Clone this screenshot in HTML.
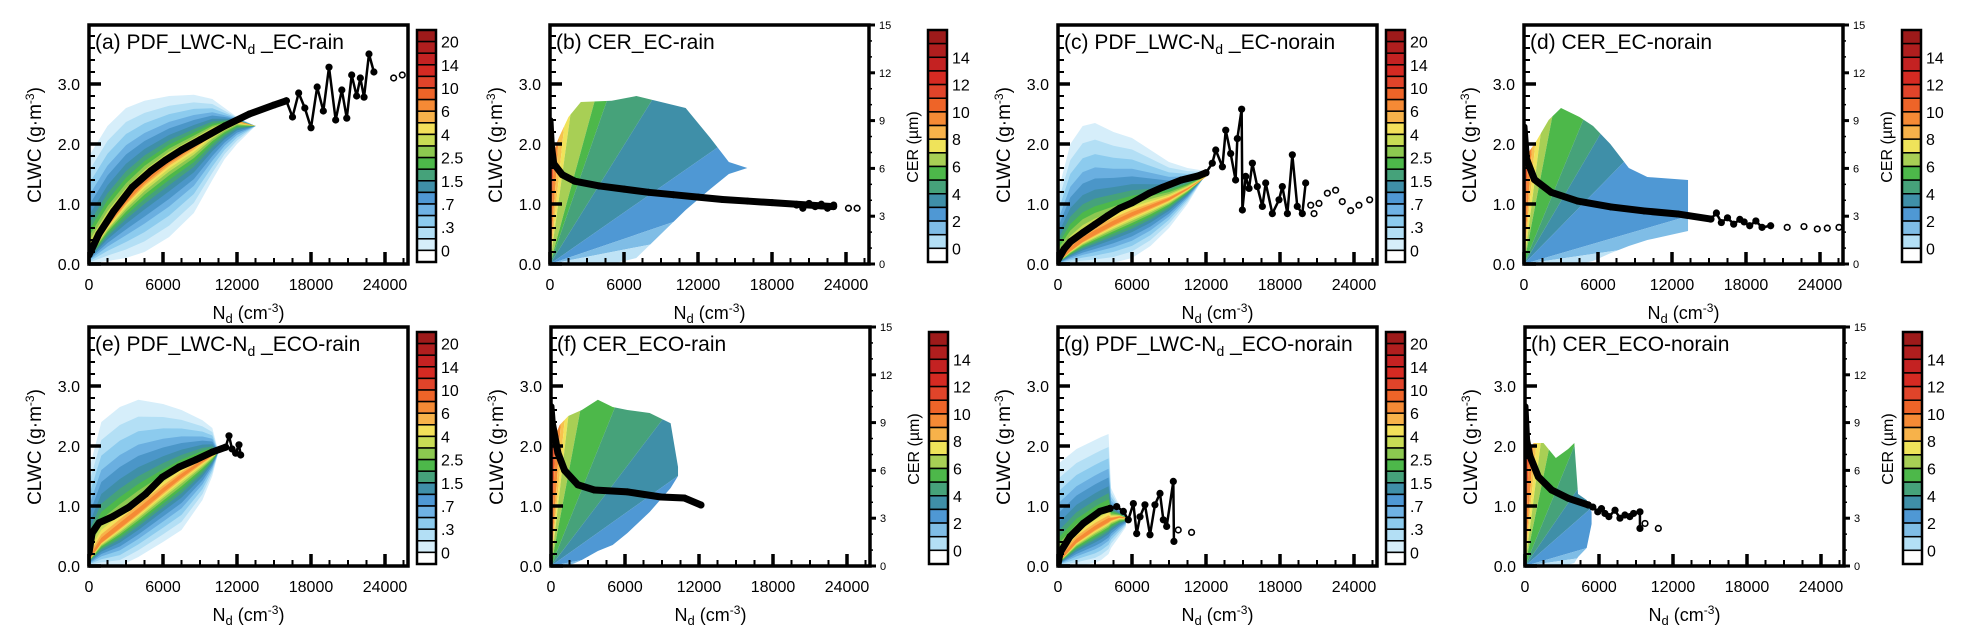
<!DOCTYPE html>
<html><head><meta charset="utf-8">
<style>
html,body{margin:0;padding:0;background:#fff;}
svg{display:block;font-family:"Liberation Sans",Arial,sans-serif;}
</style></head>
<body>
<svg id="fig" width="1963" height="644" viewBox="0 0 1963 644" xmlns="http://www.w3.org/2000/svg"></svg>
<script>
// ---------- data (Nd in cm^-3, LWC in g m^-3, CER in um) ----------
const aSmoothNd=[0,800,2000,3500,5000,6200,7500,9000,11000,13000,15000,16000];
const aSmoothVal=[0.15,0.5,0.88,1.28,1.55,1.73,1.9,2.07,2.3,2.5,2.65,2.72];
const aNoisyNd=[16000,16500,17000,17500,18000,18500,19000,19460,20000,20500,20900,21300,21700,22000,22300,22700,23100];
const aNoisyVal=[2.72,2.45,2.85,2.6,2.27,2.95,2.55,3.28,2.4,2.9,2.43,3.15,2.8,3.1,2.78,3.5,3.2];
const aOpenNd=[24700,25400];
const aOpenVal=[3.1,3.15];
const aEnvNd=[0,1500,3000,4500,6500,8500,10000,11000,12000,13500];
const aEnvTop=[1.8,2.3,2.6,2.72,2.8,2.82,2.75,2.6,2.45,2.3];
const aEnvBot=[0,0.05,0.1,0.2,0.45,0.85,1.4,1.75,2.0,2.3];
const aRidge=[0.15,0.65,1.05,1.38,1.72,1.98,2.2,2.3,2.38,2.3];

const bSmoothNd=[0,100,300,1000,2000,4000,6000,8000,10000,12000,14000,16000,18000,20000,22000,23000];
const bSmoothVal=[9.0,7.5,6.3,5.6,5.2,4.9,4.7,4.5,4.35,4.2,4.05,3.95,3.85,3.75,3.65,3.6];
const bNoisyNd=[20000,20500,21000,21500,22000,22500,23000];
const bNoisyVal=[3.7,3.5,3.8,3.6,3.75,3.5,3.7];
const bOpenNd=[24200,24900];
const bOpenVal=[3.5,3.5];
const bEnvNd=[0,700,1500,2500,5000,7000,9000,11000,13000,14500,16000];
const bEnvTop=[1.7,2.1,2.45,2.7,2.72,2.8,2.7,2.6,2.1,1.7,1.6];
const bEnvBot=[0,0,0,0,0,0.1,0.5,0.9,1.25,1.5,1.6];
const bSlopes=[60,30,20,15,7.5,5.9,3.3,1.43,0.7,0.4];

const cSmoothNd=[0,500,1000,2000,3000,4000,5000,6000,7400,8500,10000,11400,12000];
const cSmoothVal=[0.07,0.25,0.37,0.52,0.66,0.8,0.93,1.02,1.18,1.28,1.4,1.47,1.52];
const cNoisyNd=[12000,12510,12790,13330,13600,14000,14400,14540,14890,14950,15220,15490,15760,16160,16570,16840,17380,17920,18190,18600,19000,19400,19810,20080];
const cNoisyVal=[1.52,1.68,1.9,1.62,2.23,1.84,1.4,2.09,2.58,0.9,1.46,1.26,1.68,1.29,0.96,1.35,0.84,1.07,1.29,0.84,1.82,0.96,0.84,1.35];
const cOpenNd=[20490,20760,21160,21840,22510,23050,23730,24400,25270];
const cOpenVal=[0.98,0.84,1.01,1.18,1.23,1.04,0.89,0.98,1.07];
const cEnvNd=[0,1000,2000,3000,4500,6000,7500,9000,10500,12000];
const cEnvTop=[1.2,2.0,2.3,2.35,2.2,2.1,1.9,1.7,1.6,1.55];
const cEnvBot=[0,0,0,0,0.02,0.1,0.3,0.6,1.0,1.5];
const cRidge=[0.03,0.22,0.38,0.5,0.67,0.82,0.95,1.08,1.25,1.45];

const dSmoothNd=[0,200,850,2200,4350,7050,9750,12450,15150];
const dSmoothVal=[8.6,6.6,5.3,4.5,3.95,3.58,3.33,3.14,2.82];
const dNoisyNd=[15150,15600,16000,16500,17000,17500,17850,18300,18800,19300,20000];
const dNoisyVal=[2.82,3.2,2.6,2.9,2.5,2.8,2.64,2.4,2.7,2.3,2.4];
const dOpenNd=[21340,22700,23780,24590,25540];
const dOpenVal=[2.3,2.35,2.2,2.25,2.3];
const dEnvNd=[0,1000,2000,3000,4500,5600,7000,8500,10000,13300];
const dEnvTop=[1.75,2.05,2.4,2.6,2.45,2.3,2.0,1.6,1.45,1.4];
const dEnvBot=[0,0,0,0,0,0.05,0.18,0.3,0.4,0.55];
const dSlopes=[60,30,22,16,10.7,5,3.5,2.1,0.6,0.3];

const eSmoothNd=[0,250,810,1890,3240,4590,5940,7300,8650,10000,11080];
const eSmoothVal=[0.22,0.55,0.72,0.82,0.98,1.2,1.48,1.65,1.77,1.9,1.98];
const eNoisyNd=[11080,11350,11600,11890,12160,12300];
const eNoisyVal=[1.98,2.17,1.95,1.88,2.02,1.85];
const eOpenNd=[];
const eOpenVal=[];
const eEnvNd=[0,1000,2500,4000,6000,7500,9200,10000,10500];
const eEnvTop=[1.6,2.4,2.65,2.77,2.7,2.6,2.43,2.3,1.9];
const eEnvBot=[0,0,0,0.15,0.4,0.6,1.1,1.5,1.9];
const eRidge=[0.1,0.4,0.65,0.9,1.25,1.5,1.75,1.85,1.9];

const fSmoothNd=[0,100,320,560,1100,2170,3520,6220,8920,10810,12160];
const fSmoothVal=[10,9,8.1,7.1,6.0,5.1,4.77,4.65,4.33,4.27,3.83];
const fNoisyNd=[];
const fNoisyVal=[];
const fOpenNd=[];
const fOpenVal=[];
const fEnvNd=[0,700,1400,2500,3800,5000,6200,8000,9700,10300];
const fEnvTop=[2.0,2.35,2.5,2.6,2.77,2.65,2.6,2.55,2.38,1.65];
const fEnvBot=[0,0,0,0.1,0.25,0.35,0.55,0.9,1.3,1.5];
const fSlopes=[60,30,22,17.7,10.9,5.1,2.7,1.46,0.4,0.2];

const gSmoothNd=[0,160,970,2050,3400,4220];
const gSmoothVal=[0.02,0.22,0.49,0.71,0.91,0.96];
const gNoisyNd=[4220,4760,5300,5700,6110,6380,6650,7050,7460,7860,8270,8540,8810,9350,9400];
const gNoisyVal=[0.96,0.99,0.91,0.77,1.04,0.54,0.82,1.02,0.52,1.02,1.21,0.77,0.66,1.41,0.41];
const gOpenNd=[9750,10830];
const gOpenVal=[0.6,0.56];
const gEnvNd=[0,1500,3000,3500,4100,4300,5000,5500];
const gEnvTop=[1.7,1.95,2.1,2.15,2.2,1.3,1.0,0.85];
const gEnvBot=[0,0,0.05,0.1,0.2,0.3,0.5,0.65];
const gRidge=[0.05,0.4,0.62,0.68,0.75,0.78,0.82,0.8];

const hSmoothNd=[0,130,400,1080,2160,3510,5130];
const hSmoothVal=[10,7.9,6.9,5.6,4.77,4.25,3.83];
const hNoisyNd=[5130,5500,5900,6200,6480,6800,7300,7700,8100,8500,8800,9320,9320];
const hNoisyVal=[3.83,3.7,3.4,3.6,3.3,3.1,3.5,3.0,3.2,3.1,3.3,3.4,2.36];
const hOpenNd=[9730,10810];
const hOpenVal=[2.67,2.36];
const hEnvNd=[0,700,1500,2500,3500,4000,4300,5000,5400];
const hEnvTop=[1.8,2.05,2.05,1.8,1.95,2.05,1.2,1.1,0.9];
const hEnvBot=[0,0,0,0,0.02,0.05,0.15,0.3,0.7];
const hSlopes=[60,30,22,16,10,5,3,1.8,0.6,0.3];

const xTickVals=[0,6000,12000,18000,24000];
const yTickVals=[0,1,2,3];
const yTickLabels=["0.0","1.0","2.0","3.0"];
const cerTickVals=[0,3,6,9,12,15];
const pdfBarLabels=["20","14","10","6","4","2.5","1.5",".7",".3","0"];
const cerBarLabels=["14","12","10","8","6","4","2","0"];

// ---------- styling ----------
const PW=319, PH=239, NDPX=74/6000, LWCPX=60, CERMAX=15;
const pdfBarColors=['#9e1a1a','#b01e1e','#c42222','#d52a22','#e0442a','#ee6428','#f58a35','#f7b24a','#f3e05a','#c8dc55','#8cc850','#4db84a','#45a27a','#3f8fa8','#4f98d4','#6fb2e4','#8ccbee','#b3dff5','#d6eefa','#ffffff'];
const cerBarColors=['#9e1a1a','#b01e1e','#c42222','#d52a22','#e0442a','#ee6428','#f58a35','#f7b24a','#efe35a','#a8cf55','#4db84a','#46a27a','#3f8fa8','#4f98d4','#7fbde6','#b3dff5','#ffffff'];
const bandFrac=[1,0.85,0.72,0.6,0.5,0.4,0.32,0.25,0.19,0.14,0.1,0.065,0.035];
const bandColors=['#d6eefa','#b3dff5','#8ccbee','#6aafe0','#4b96c8','#3f8fa8','#45a27a','#4db84a','#8cc850','#c8dc55','#f3e05a','#f7b24a','#f58a35'];
const wedgeColors=['#e8562e','#f58a35','#f7c24e','#efe35a','#a8cf55','#4db84a','#46a27a','#3f8fa8','#4f98d4','#7fbde6','#bfe3f6'];

const panels=[
 {id:'a',type:'pdf',left:89,top:25,t1:'(a) PDF_LWC-N',t2:' _EC-rain',sN:aSmoothNd,sV:aSmoothVal,nN:aNoisyNd,nV:aNoisyVal,oN:aOpenNd,oV:aOpenVal,eN:aEnvNd,eT:aEnvTop,eB:aEnvBot,r:aRidge},
 {id:'b',type:'cer',left:550,top:25,t1:'(b) CER_EC-rain',t2:'',sN:bSmoothNd,sV:bSmoothVal,nN:bNoisyNd,nV:bNoisyVal,oN:bOpenNd,oV:bOpenVal,eN:bEnvNd,eT:bEnvTop,eB:bEnvBot,sl:bSlopes},
 {id:'c',type:'pdf',left:1058,top:25,t1:'(c) PDF_LWC-N',t2:' _EC-norain',sN:cSmoothNd,sV:cSmoothVal,nN:cNoisyNd,nV:cNoisyVal,oN:cOpenNd,oV:cOpenVal,eN:cEnvNd,eT:cEnvTop,eB:cEnvBot,r:cRidge},
 {id:'d',type:'cer',left:1524,top:25,t1:'(d) CER_EC-norain',t2:'',sN:dSmoothNd,sV:dSmoothVal,nN:dNoisyNd,nV:dNoisyVal,oN:dOpenNd,oV:dOpenVal,eN:dEnvNd,eT:dEnvTop,eB:dEnvBot,sl:dSlopes},
 {id:'e',type:'pdf',left:89,top:327,t1:'(e) PDF_LWC-N',t2:' _ECO-rain',sN:eSmoothNd,sV:eSmoothVal,nN:eNoisyNd,nV:eNoisyVal,oN:eOpenNd,oV:eOpenVal,eN:eEnvNd,eT:eEnvTop,eB:eEnvBot,r:eRidge},
 {id:'f',type:'cer',left:551,top:327,t1:'(f) CER_ECO-rain',t2:'',sN:fSmoothNd,sV:fSmoothVal,nN:fNoisyNd,nV:fNoisyVal,oN:fOpenNd,oV:fOpenVal,eN:fEnvNd,eT:fEnvTop,eB:fEnvBot,sl:fSlopes},
 {id:'g',type:'pdf',left:1058,top:327,t1:'(g) PDF_LWC-N',t2:' _ECO-norain',sN:gSmoothNd,sV:gSmoothVal,nN:gNoisyNd,nV:gNoisyVal,oN:gOpenNd,oV:gOpenVal,eN:gEnvNd,eT:gEnvTop,eB:gEnvBot,r:gRidge},
 {id:'h',type:'cer',left:1525,top:327,t1:'(h) CER_ECO-norain',t2:'',sN:hSmoothNd,sV:hSmoothVal,nN:hNoisyNd,nV:hNoisyVal,oN:hOpenNd,oV:hOpenVal,eN:hEnvNd,eT:hEnvTop,eB:hEnvBot,sl:hSlopes}
];

const NS='http://www.w3.org/2000/svg';
const svg=document.getElementById('fig');
function mk(tag,parent,attrs){const e=document.createElementNS(NS,tag);for(const k in attrs)e.setAttribute(k,attrs[k]);parent.appendChild(e);return e;}
function tsp(parent,text,attrs){const t=mk('tspan',parent,attrs||{});t.textContent=text;return t;}

panels.forEach(p=>{
  const L=p.left,T=p.top,B=T+PH,R=L+PW;
  const X=v=>L+v*NDPX;
  const Y=v=>B-v*LWCPX;
  const YC=v=>B-v*PH/CERMAX;
  const g=mk('g',svg,{});
  
  
  const defs=mk('defs',g,{});
  const cp=mk('clipPath',defs,{id:'clip-'+p.id});
  mk('rect',cp,{x:L,y:T,width:PW,height:PH});
  const cloud=mk('g',g,{'clip-path':'url(#clip-'+p.id+')'});
  
  
  if(p.type==='pdf'){
    bandFrac.forEach((f,k)=>{
      const up=p.eN.map((n,i)=>X(n)+','+Y(p.r[i]+f*(p.eT[i]-p.r[i])));
      const lo=p.eN.map((n,i)=>X(n)+','+Y(p.r[i]-f*(p.r[i]-p.eB[i]))).reverse();
      const poly=mk('polygon',cloud,{points:up.concat(lo).join(' '),fill:bandColors[k]});
      
      
    });
  } else {
    const ecp=mk('clipPath',defs,{id:'env-'+p.id});
    const up=p.eN.map((n,i)=>X(n)+','+Y(p.eT[i]));
    const lo=p.eN.map((n,i)=>X(n)+','+Y(p.eB[i])).reverse();
    mk('polygon',ecp,{points:up.concat(lo).join(' ')});
    const wg=mk('g',cloud,{'clip-path':'url(#env-'+p.id+')'});
    const XM=30000;
    const bounds=[null].concat(p.sl).concat([0]);
    for(let k=0;k<bounds.length-1;k++){
      const s1=bounds[k],s2=bounds[k+1];
      const p1=s1===null?(X(0)+','+(T-50)):(X(XM)+','+Y(s1*XM/10000));
      const pts=[X(0)+','+Y(0),p1,X(XM)+','+Y(s2*XM/10000)];
      if(s1===null)pts.splice(2,0,X(XM)+','+(T-50));
      const poly=mk('polygon',wg,{points:pts.join(' '),fill:wedgeColors[k]});
      
      
    }
  }
  const YV=p.type==='pdf'?Y:YC;
  const cg=mk('g',g,{'clip-path':'url(#clip-'+p.id+')'});
  
  
  mk('polyline',cg,{points:p.sN.map((n,i)=>X(n)+','+YV(p.sV[i])).join(' '),fill:'none',stroke:'#000','stroke-width':7,'stroke-linejoin':'round','stroke-linecap':'round'});
  if(p.nN.length){
    mk('polyline',cg,{points:p.nN.map((n,i)=>X(n)+','+YV(p.nV[i])).join(' '),fill:'none',stroke:'#000','stroke-width':2.5,'stroke-linejoin':'round'});
  }
  p.sN.forEach((n,i)=>{const c=mk('circle',cg,{cx:X(n),cy:YV(p.sV[i]),r:3.5,fill:'#000'});
    
    });
  p.nN.forEach((n,i)=>{const c=mk('circle',cg,{cx:X(n),cy:YV(p.nV[i]),r:3.6,fill:'#000'});
    
    });
  p.oN.forEach((n,i)=>{const c=mk('circle',cg,{cx:X(n),cy:YV(p.oV[i]),r:2.8,fill:'#fff',stroke:'#000','stroke-width':1.6});
    
    });
  const tk=mk('g',g,{stroke:'#000'});
  for(let v=0;v<=3.9;v+=0.2){const maj=Math.abs(v-Math.round(v))<1e-6;
    mk('line',tk,{x1:L,x2:L+(maj?12:6),y1:Y(v),y2:Y(v),'stroke-width':maj?3.5:2});}
  for(let n=0;n<=25600;n+=1500){const maj=n%6000===0;
    mk('line',tk,{x1:X(n),x2:X(n),y1:B,y2:B-(maj?12:6),'stroke-width':maj?3.5:2});}
  yTickVals.forEach((v,i)=>{const t=mk('text',g,{x:L-9,y:Y(v)+6,'font-size':16,'text-anchor':'end'});t.textContent=yTickLabels[i];
    
    });
  xTickVals.forEach(v=>{const t=mk('text',g,{x:X(v),y:B+26,'font-size':16,'text-anchor':'middle'});t.textContent=String(v);
    
    });
  const fr=mk('rect',g,{x:L,y:T,width:PW,height:PH,fill:'none',stroke:'#000','stroke-width':3.5});
  
  
  const tt=mk('text',g,{x:L+6,y:T+24,'font-size':21});
  
  
  tsp(tt,p.t1);
  if(p.t2){tsp(tt,'d',{'font-size':14,dy:5});tsp(tt,p.t2,{dy:-5});}
  const xl=mk('text',g,{x:L+PW/2,y:B+55,'font-size':18,'text-anchor':'middle'});
  
  
  tsp(xl,'N');tsp(xl,'d',{'font-size':13,dy:4});tsp(xl,' (cm',{dy:-4});tsp(xl,'-3',{'font-size':12,dy:-7});tsp(xl,')',{dy:7});
  const yl=mk('text',g,{transform:'translate('+(L-48)+','+(T+120)+') rotate(-90)','font-size':19,'text-anchor':'middle'});
  
  
  tsp(yl,'CLWC (g·m');tsp(yl,'-3',{'font-size':12,dy:-7});tsp(yl,')',{dy:7});
  const isPdf=p.type==='pdf';
  const cbx=L+(isPdf?328:378), cbt=T+5, cbh=232, cbw=19;
  const cols=isPdf?pdfBarColors:cerBarColors;
  const bh=cbh/cols.length;
  const cb=mk('g',g,{});
  
  
  cols.forEach((c,i)=>mk('rect',cb,{x:cbx,y:cbt+i*bh,width:cbw,height:bh,fill:c,stroke:'#000','stroke-width':1.5}));
  mk('rect',cb,{x:cbx,y:cbt,width:cbw,height:cbh,fill:'none',stroke:'#000','stroke-width':2.5});
  const labs=isPdf?pdfBarLabels:cerBarLabels;
  labs.forEach((s,i)=>{const bi=isPdf?(1+2*i):(2+2*i);
    const t=mk('text',cb,{x:cbx+cbw+5,y:cbt+bi*bh+6,'font-size':16});t.textContent=s;
    
    });
  if(!isPdf){
    const ra=mk('g',g,{stroke:'#000'});
    
    
    for(let v=0;v<=15;v++){const maj=v%3===0;
      mk('line',ra,{x1:R,x2:R+(maj?6:3),y1:YC(v),y2:YC(v),'stroke-width':maj?3:1.5});}
    cerTickVals.forEach(v=>{const t=mk('text',g,{x:R+10,y:YC(v)+4,'font-size':11});t.textContent=String(v);
      
      });
    const cl=mk('text',g,{transform:'translate('+(L+368)+','+(T+122)+') rotate(-90)','font-size':16,'text-anchor':'middle'});
    
    
    cl.textContent='CER (µm)';
  }
});
</script>
</body></html>
